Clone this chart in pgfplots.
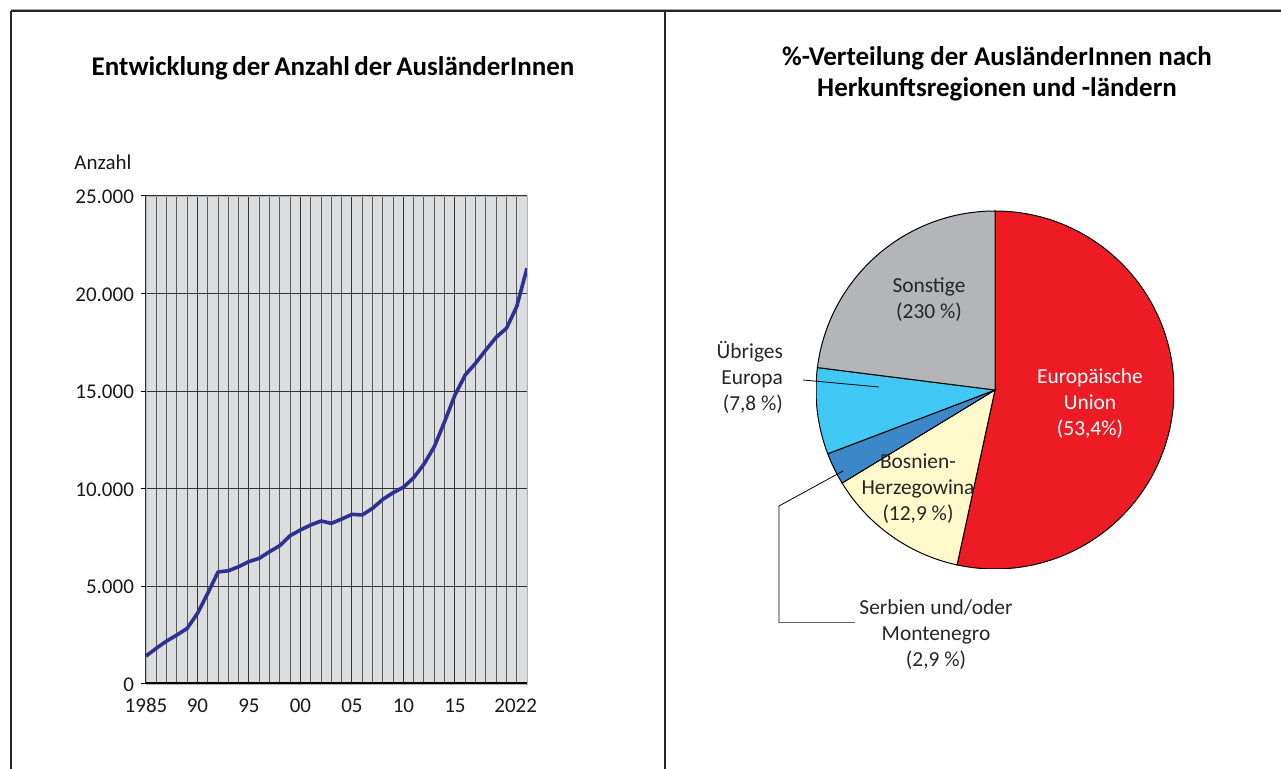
\documentclass[border=0pt]{standalone}
\usepackage{pgfplots}
\pgfplotsset{compat=1.18}
\usepackage{pgfplotstable}
\usepackage{fontspec}
\setmainfont{Carlito}

\definecolor{plotbg}{RGB}{220,221,223}
\definecolor{lineblue}{RGB}{46,49,146}
\definecolor{euRed}{RGB}{237,28,36}
\definecolor{bhYellow}{RGB}{255,249,204}
\definecolor{rsBlue}{RGB}{59,135,199}
\definecolor{euroCyan}{RGB}{65,200,244}
\definecolor{restGrey}{RGB}{180,181,184}

% Anzahl der AuslaenderInnen
\pgfplotstableread{
year count
1985 1430
1986 1830
1987 2200
1988 2510
1989 2850
1990 3620
1991 4650
1992 5740
1993 5800
1994 6010
1995 6270
1996 6440
1997 6780
1998 7090
1999 7600
2000 7890
2001 8150
2002 8350
2003 8230
2004 8450
2005 8690
2006 8660
2007 9000
2008 9460
2009 9800
2010 10080
2011 10570
2012 11270
2013 12160
2014 13440
2015 14800
2016 15830
2017 16430
2018 17110
2019 17760
2020 18220
2021 19330
2022 21300
}\auslaender

% Anteile in % (im Uhrzeigersinn ab 12 Uhr)
\def\shEU{53.4}
\def\shBH{12.9}
\def\shRS{2.9}
\def\shEur{7.8}
\def\shRest{23.0}

\newcommand{\lbl}{\fontsize{10.7}{13}\selectfont}
\newcommand{\tck}{\fontsize{10.5}{12}\selectfont}

\begin{document}
\begin{tikzpicture}
\path[use as bounding box] (0,0) rectangle (640.5pt,-384.5pt);

% frame and labels, 1 unit = 1 px of the reference
\begin{scope}[x=0.5pt,y=-0.5pt]
  \draw[gray!70, line width=0.4pt] (11,9) -- (1281,9);
  \draw[black!85, line width=1.1pt] (11,11) -- (1281,11);
  \draw[black!85, line width=1.1pt] (11,11) -- (11,769);
  \draw[black!85, line width=1.1pt] (665,11) -- (665,769);

  \node[font=\fontsize{13.5}{15}\selectfont\bfseries] at (333,68)
    {\spaceskip=0.16em Entwicklung der Anzahl der AusländerInnen};
  \node[font=\fontsize{13.5}{15.5}\selectfont\bfseries, align=center] at (997,74)
    {\%-Verteilung der AusländerInnen nach\\Herkunftsregionen und -ländern};
  \node[font=\tck, text=black!90] at (103,162) {Anzahl};
\end{scope}

% line chart
\begin{axis}[
    at={(73pt,-342pt)}, anchor=south west,
    scale only axis, width=190.5pt, height=244pt,
    xmin=1985, xmax=2022, ymin=0, ymax=25000,
    scaled y ticks=false,
    axis background/.style={fill=plotbg},
    axis line style={draw=gray!60},
    ytick={0,5000,...,25000},
    yticklabels={0,5.000,10.000,15.000,20.000,25.000},
    xtick={1985,1990,...,2015},
    xticklabels={1985,90,95,00,05,10,15},
    extra x ticks={2020.9},
    extra x tick labels={2022},
    extra x tick style={grid=none},
    minor xtick={1986,...,2021},
    xmajorgrids, xminorgrids, ymajorgrids,
    major grid style={black!80, line width=0.5pt},
    minor grid style={black!65, line width=0.5pt},
    tick align=outside, ytick pos=left, xtick pos=bottom,
    x tick style={draw=none},
    y tick style={black, line width=0.5pt},
    major tick length=2.5pt,
    tick label style={font=\tck, text=black!90},
    yticklabel style={yshift=-1.4pt},
    typeset ticklabels with strut,
    /pgf/number format/assume math mode=true,
  ]
  \addplot[lineblue, line width=1.8pt, line join=round] table[x=year, y=count] {\auslaender};
  \draw[black, line width=1.5pt] ([xshift=-2.5pt]axis cs:1985,0) -- ([xshift=2pt]axis cs:2022,0);
\end{axis}

% pie chart
\pgfmathsetmacro\aA{90}
\pgfmathsetmacro\aB{\aA-3.6*\shEU}
\pgfmathsetmacro\aC{\aB-3.6*\shBH}
\pgfmathsetmacro\aD{\aC-3.6*\shRS}
\pgfmathsetmacro\aE{\aD-3.6*\shEur}
\pgfmathsetmacro\aF{\aE-3.6*\shRest}
\def\R{89.5pt}
\begin{axis}[
    at={(497.5pt,-195pt)}, anchor=center,
    scale only axis, width=179pt, height=179pt,
    xmin=-1, xmax=1, ymin=-1, ymax=1, hide axis,
  ]
  \filldraw[fill=euRed, draw=black, line width=0.5pt]
    (axis cs:0,0) -- ++(\aA:\R) arc[start angle=\aA, end angle=\aB, radius=\R] -- cycle;
  \filldraw[fill=bhYellow, draw=black, line width=0.5pt]
    (axis cs:0,0) -- ++(\aB:\R) arc[start angle=\aB, end angle=\aC, radius=\R] -- cycle;
  \filldraw[fill=rsBlue, draw=black, line width=0.5pt]
    (axis cs:0,0) -- ++(\aC:\R) arc[start angle=\aC, end angle=\aD, radius=\R] -- cycle;
  \filldraw[fill=euroCyan, draw=black, line width=0.5pt]
    (axis cs:0,0) -- ++(\aD:\R) arc[start angle=\aD, end angle=\aE, radius=\R] -- cycle;
  \filldraw[fill=restGrey, draw=black, line width=0.5pt]
    (axis cs:0,0) -- ++(\aE:\R) arc[start angle=\aE, end angle=\aF, radius=\R] -- cycle;
\end{axis}

% pie labels and leaders
\begin{scope}[x=0.5pt,y=-0.5pt]
  \draw[black, line width=0.4pt] (803,380) -- (879,387);
  \draw[black, line width=0.4pt] (843,471) -- (779,506) -- (779,623);
  \draw[black!60, line width=0.5pt] (779,623) -- (855,623);
  \node[font=\lbl, align=center, text=black!85] at (929,300) {Sonstige\\(230 \%)};
  \node[font=\lbl, align=right, anchor=east, text=black!85] at (790,377) {Übriges\\Europa\\(7,8 \%)};
  \node[font=\lbl, align=center, text=white] at (1090,404) {Europäische\\Union\\(53,4\%)};
  \node[font=\lbl, align=center, text=black!85] at (918,489) {Bosnien-\\Herzegowina\\(12,9 \%)};
  \node[font=\lbl, align=center, text=black!85] at (936,635) {Serbien und/oder\\Montenegro\\(2,9 \%)};
\end{scope}
\end{tikzpicture}
\end{document}
